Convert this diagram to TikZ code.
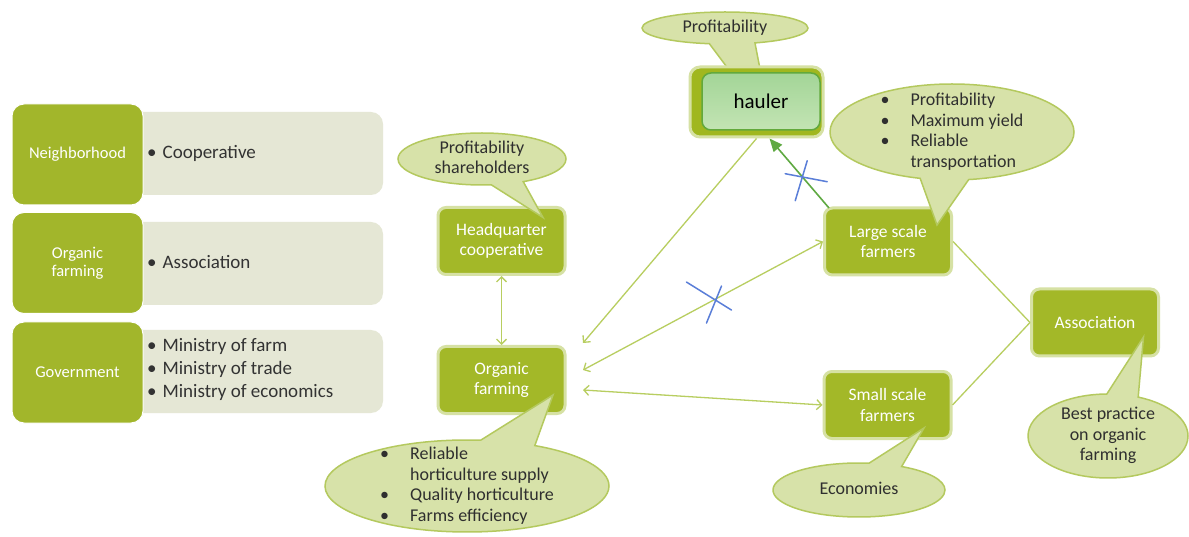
\documentclass[tikz,border=0pt]{standalone}
\usepackage{fontspec}
\setmainfont{Carlito}
\usetikzlibrary{arrows.meta,shapes.callouts,calc}

\definecolor{leafdark}{HTML}{A3B828}
\definecolor{tagdark}{HTML}{A2B62B}
\definecolor{leafedge}{HTML}{D6E1A4}
\definecolor{panelbg}{HTML}{E5E7D5}
\definecolor{panelink}{HTML}{333333}
\definecolor{bubblefill}{HTML}{D7E2A9}
\definecolor{bubbleedge}{HTML}{B4C95E}
\definecolor{bubbleink}{HTML}{2F2F2F}
\definecolor{linkgreen}{HTML}{B8CE60}
\definecolor{arrowgreen}{HTML}{5FA942}
\definecolor{crossblue}{HTML}{5A7ED8}
\definecolor{haulerout}{HTML}{A0B71F}
\definecolor{haulertop}{HTML}{A3D597}
\definecolor{haulerbot}{HTML}{C3E4B4}
\definecolor{haulerline}{HTML}{62A93C}

% centred multi-line text inside a callout (no height, so the ellipse keeps its set size)
\newcommand{\bubtext}[1]{\raisebox{-0.25em}{\begin{tabular}{@{}c@{}}#1\end{tabular}}}
\newcommand{\bublist}[1]{\raisebox{-0.25em}{\begin{tabular}{@{}c@{\hspace{21pt}}l@{}}#1\end{tabular}}}

\tikzset{
  sidetag/.style={rectangle, rounded corners=12pt, fill=tagdark, draw=white, line width=1pt,
    text=white, align=center, font=\fontsize{16.5}{18}\selectfont,
    minimum width=131pt, minimum height=101pt, inner sep=0pt},
  sidepanel/.style={rectangle, rounded corners=12pt, fill=panelbg,
    minimum width=253pt, minimum height=83pt, inner sep=0pt},
  sidetext/.style={anchor=west, text=panelink, align=left,
    font=\fontsize{19}{23}\selectfont, inner sep=0pt},
  actor/.style={rectangle, rounded corners=8pt, fill=leafdark, draw=leafedge, line width=3pt,
    text=white, align=center, font=\fontsize{17.5}{20.5}\selectfont,
    minimum width=127pt, minimum height=67pt, inner sep=0pt},
  bubble/.style={ellipse callout, fill=bubblefill, draw=bubbleedge, line width=1.5pt,
    text=bubbleink, font=\fontsize{18}{20.5}\selectfont, callout pointer arc=23,
    inner sep=0pt, text height=0pt, text depth=0pt},
  link/.style={draw=linkgreen, line width=1.3pt},
  oneway/.style={-{Straight Barb[length=5pt,width=10pt]}},
  twoway/.style={{Straight Barb[length=5pt,width=10pt]}-{Straight Barb[length=5pt,width=10pt]}},
  pushes/.style={draw=arrowgreen, line width=1.6pt, -{Triangle[length=13pt,width=11pt]}},
  cutmark/.style={draw=crossblue, line width=1.5pt, line cap=round}
}

\begin{document}
\begin{tikzpicture}[x=1pt,y=-1pt]
\useasboundingbox (0,0) rectangle (1189,537);
\fill[white] (0,0) rectangle (1189,537);

% ---- stakeholder groups (left) ----
\node[sidepanel] (p1) at (256.5,153.5) {};
\node[sidepanel] (p2) at (256.5,263.5) {};
\node[sidepanel] (p3) at (256.5,371.5) {};
\node[sidetag] (g1) at (77.5,154.5) {Neighborhood};
\node[sidetag] (g2) at (77.5,263) {Organic\\farming};
\node[sidetag] (g3) at (77.5,372.5) {Government};
\node[sidetext] (t1) at (147,153) {•\hspace{6pt}Cooperative};
\node[sidetext] (t2) at (147,262) {•\hspace{6pt}Association};
\node[sidetext] (t3) at (147,369.5) {•\hspace{6pt}Ministry of farm\\•\hspace{6pt}Ministry of trade\\•\hspace{6pt}Ministry of economics};

% ---- hauler interest: its tail runs behind the hauler box ----
\coordinate (haulerTip) at (771,126);
\node[bubble, minimum width=166pt, minimum height=32pt, callout pointer arc=32,
      callout absolute pointer=(haulerTip)] (cHauler) at (725,28)
      {\bubtext{Profitability}};

% ---- actors ----
\node[actor] (hq) at (501.5,241) {Headquarter\\cooperative};
\node[actor] (of) at (501.5,380) {Organic\\farming};
\node[actor] (lsf) at (888,241.5) {Large scale\\farmers};
\node[actor] (ssf) at (887.5,405) {Small scale\\farmers};
\node[actor] (assoc) at (1095,322.5) {Association};
\node[rectangle, rounded corners=10pt, fill=haulerout, draw=leafedge, line width=3pt,
      minimum width=133pt, minimum height=70pt, inner sep=0pt] (hauler) at (756.5,102) {};
\node[rectangle, rounded corners=9pt, top color=haulertop, bottom color=haulerbot,
      draw=haulerline, line width=1.5pt, minimum width=118pt, minimum height=57pt,
      inner sep=0pt, font=\fontsize{21}{24}\selectfont, text=black] (haulerface) at (761,101.5) {hauler};

% ---- connectors ----
\draw[link, twoway] (hq.south) -- (of.north);
\draw[link, oneway] (hauler.south) -- ($(of.east)+(16.5,-37)$);
\draw[link, twoway] ($(of.east)+(16.5,-10)$) -- (lsf.west) coordinate[pos=0.552] (cut2);
\draw[link, twoway] ($(of.east)+(16.5,10)$) -- (ssf.west);
\draw[link] (lsf.east) -- (assoc.west);
\draw[link] (ssf.east) -- (assoc.west);
\draw[pushes] ($(lsf.north west)+(6,1.5)$) -- ($(hauler.south)+(13,0)$) coordinate[pos=0.45] (cut1);

% crossed-out links
\draw[cutmark] ($(cut1)+(-17,-3)$) -- ($(cut1)+(25,5)$);
\draw[cutmark] ($(cut1)+(5,-16)$) -- ($(cut1)+(-7,24)$);
\draw[cutmark] ($(cut2)+(-29,-17)$) -- ($(cut2)+(16,11)$);
\draw[cutmark] ($(cut2)+(6,-13)$) -- ($(cut2)+(-9,24)$);

% ---- interests (callouts) ----
\node[bubble, minimum width=168pt, minimum height=52pt,
      callout absolute pointer={($(hq.north)+(41.5,11.5)$)}] (cHq) at (482,159)
      {\bubtext{Profitability\\shareholders}};
\node[bubble, minimum width=244pt, minimum height=96pt,
      callout absolute pointer={($(lsf.north)+(49,18.5)$)}] (cLsf) at (952,132)
      {\bublist{•&Profitability\\•&Maximum yield\\•&Reliable\\&transportation}};
\node[bubble, minimum width=284pt, minimum height=92pt,
      callout absolute pointer={($(of.east)+(-13.5,15)$)}] (cOf) at (467,486)
      {\bublist{•&Reliable\\&horticulture supply\\•&Quality horticulture\\•&Farms efficiency}};
\node[bubble, minimum width=172pt, minimum height=54pt,
      callout absolute pointer={($(ssf.east)+(-28.5,23)$)}] (cSsf) at (859,490)
      {\bubtext{Economies}};
\node[bubble, minimum width=160pt, minimum height=84pt,
      callout absolute pointer={($(assoc.east)+(-16.5,14.5)$)}] (cAssoc) at (1108,436)
      {\bubtext{Best practice\\on organic\\farming}};
\end{tikzpicture}
\end{document}
